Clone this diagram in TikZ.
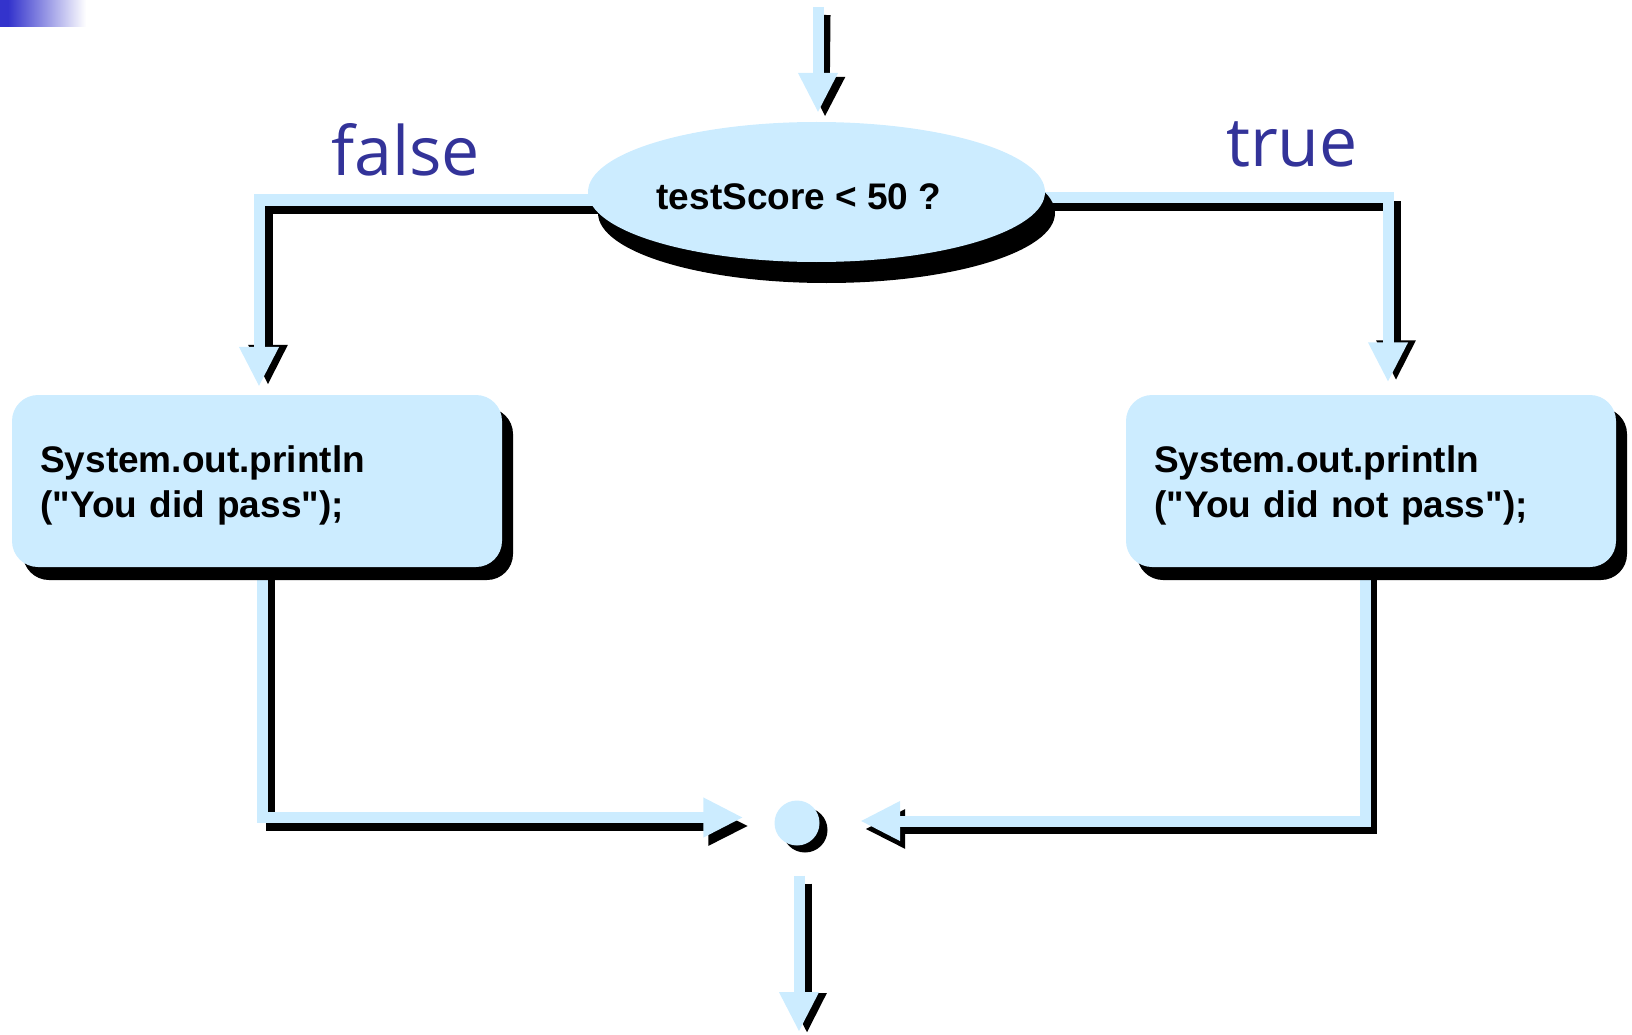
\documentclass[tikz,border=0pt]{standalone}
\usepackage{fontspec}
\setmainfont{Liberation Sans}[Ligatures=TeXOff]
\newfontfamily\labelfont{Open Sans}
\usetikzlibrary{arrows.meta,calc,shapes.geometric,shadows}
\definecolor{flowblue}{HTML}{CCECFF}
\definecolor{labelblue}{HTML}{333399}
\definecolor{barblue}{RGB}{51,51,204}
\pgfdeclarelayer{links}
\pgfsetlayers{links,main}

\begin{document}
\begin{tikzpicture}[x=1pt,y=-1pt,
  link/.style={draw=flowblue,line width=11pt,line join=miter,
    -{Triangle[length=40pt,width=37pt]}},
  linkshade/.style={draw=black,line width=9pt,line join=miter,
    -{Triangle[length=40pt,width=37pt]}},
  decision/.style={ellipse,fill=flowblue,minimum width=457pt,minimum height=140pt,
    inner sep=0pt,drop shadow={shadow xshift=10pt,shadow yshift=-21pt,fill=black,opacity=1}},
  stmt/.style={rectangle,rounded corners=26pt,fill=flowblue,minimum width=490pt,
    minimum height=172pt,inner sep=0pt,
    drop shadow={shadow xshift=11pt,shadow yshift=-13pt,fill=black,opacity=1}},
  junction/.style={circle,fill=flowblue,minimum size=45pt,inner sep=0pt,
    drop shadow={shadow xshift=8pt,shadow yshift=-7pt,fill=black,opacity=1}},
  codetext/.style={font=\fontsize{37}{45}\selectfont\bfseries,inner sep=0pt},
  boxtext/.style={codetext,text width=450pt,align=left,anchor=base west},
  branchlabel/.style={font=\labelfont\fontsize{68}{80}\selectfont,text=labelblue,
    inner sep=0pt,anchor=base west}]
\useasboundingbox (0,0) rectangle (1632,1035);

% corner bar
\fill[barblue] (0,0) rectangle (9,27);
\shade[left color=barblue,right color=white] (8,0) rectangle (86,27);

% nodes
\node[decision] (dec) at (816.5,192) {};
\node[codetext,anchor=base] (dectext) at (799,210) {testScore < 50 ?};
\node[stmt] (lbox) at (257,481) {};
\node[boxtext] (ltext) at (40,472) {System.out.println\\("You did pass");};
\node[stmt] (rbox) at (1371,481) {};
\node[boxtext] (rtext) at (1154,472) {System.out.println\\("You did not pass");};
\node[junction] (merge) at (797,823) {};
\node[branchlabel] (flabel) at (331,176) {false};
\node[branchlabel] (tlabel) at (1226,167) {true};

\coordinate (start) at (818,7);
\coordinate (finish) at (799,1032);

% connectors with their shadows
\begin{pgfonlayer}{links}
  \draw[linkshade] ($(start)+(8,8)$) -- ($(start |- dec.north)+(7,-5)$);
  \draw[link] (start) -- ($(start |- dec.north)+(0,-9)$);

  \draw[linkshade] ($(dec.west)+(30,17)$) -| ($(lbox.north)+(11,-10)$);
  \draw[link] ($(dec.west)+(30,8)$) -| ($(lbox.north)+(2,-8)$);

  \draw[linkshade] ($(dec.east)+(-30,14)$) -| ($(rbox.north)+(25,-14.5)$);
  \draw[link] ($(dec.east)+(-30,6)$) -| ($(rbox.north)+(17,-12.5)$);

  \draw[linkshade] ($(lbox.south)+(13.5,-10)$) |- ($(merge.west)+(-26,3)$);
  \draw[link] ($(lbox.south)+(5.5,-10)$) |- ($(merge.west)+(-31,-5.5)$);

  \draw[linkshade] ($(rbox.south)+(1,-10)$) |- ($(merge.east)+(45.5,6)$);
  \draw[link] ($(rbox.south)+(-6,-10)$) |- ($(merge.east)+(40.5,-2)$);

  \draw[linkshade] ($(merge.south)+(10,38)$) -- ($(finish)+(8,1)$);
  \draw[link] ($(merge.south)+(2,30)$) -- (finish);
\end{pgfonlayer}
\end{tikzpicture}
\end{document}
